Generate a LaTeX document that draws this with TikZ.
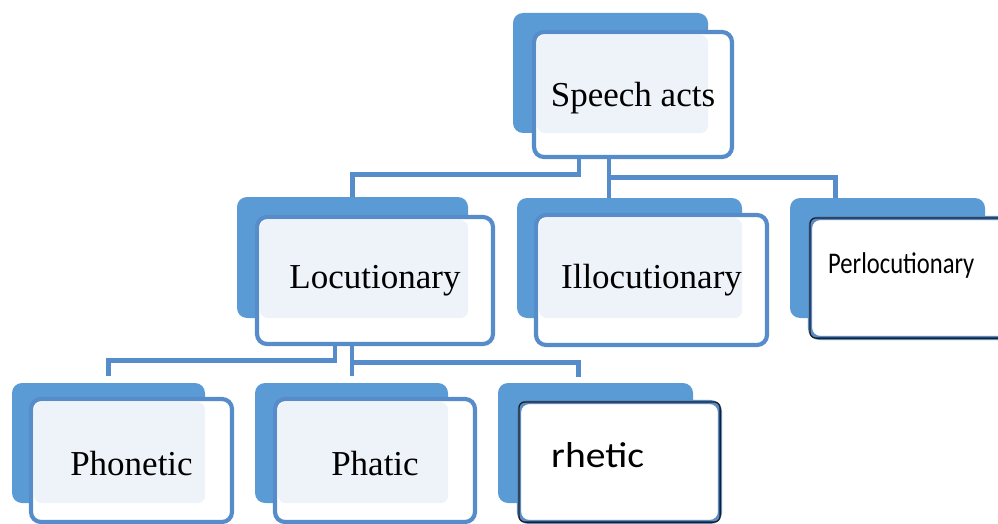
\documentclass[tikz,border=0pt]{standalone}
\usepackage{fontspec}
\setmainfont{Liberation Serif}
\newfontfamily\boxsans{Carlito}
\definecolor{backblue}{HTML}{5B9BD5}
\definecolor{lineblue}{HTML}{578CCB}
\definecolor{tintblue}{HTML}{EEF3FA}
\definecolor{rimdark}{HTML}{1E1E1E}

\begin{document}
\begin{tikzpicture}[x=1pt, y=-1pt,
	back/.style={rectangle, rounded corners=10pt, fill=backblue, inner sep=0pt},
	front/.style={rectangle, rounded corners=10pt, draw=lineblue, line width=4.2pt,
		fill=white, inner sep=0pt, text height=24pt, text depth=0pt, font=\fontsize{35}{42}\selectfont},
	tinted/.style={path picture={\fill[tintblue, rounded corners=8pt]
		([shift={(3,3)}]path picture bounding box.north west) rectangle (#1.south east);}},
	rim/.style={draw=rimdark, line width=1.3pt, rounded corners=6pt},
	link/.style={draw=lineblue, line width=4.8pt}]
		\useasboundingbox (0,0) rectangle (998,524);
		
		\node[back, minimum width=195, minimum height=120] (speech-b) at (610.5,73) {};
		\node[front, tinted=speech-b, minimum width=198, minimum height=125] (speech) at (633,94.5) {Speech acts}; % top
		
		\node[back, minimum width=231, minimum height=121] (locut-b) at (352.5,257.5) {};
		\node[front, tinted=locut-b, text depth=8pt, minimum width=236, minimum height=127] (locut) at (375,280.5) {Locutionary};
		\node[back, minimum width=225, minimum height=120] (illoc-b) at (629.5,258) {};
		\node[front, tinted=illoc-b, text depth=8pt, minimum width=231, minimum height=130] (illoc) at (651.5,280) {Illocutionary};
		\node[back, minimum width=195, minimum height=120] (perloc-b) at (887.5,258) {};
		\node[front, minimum width=200, minimum height=120] (perloc) at (910,278) {};
		\draw[rim] ([shift={(2,2)}]perloc.north west) rectangle ([shift={(-2,-2)}]perloc.south east);
		\node[anchor=west, inner sep=0pt, font=\boxsans\fontsize{30}{36}\selectfont] (perloc-t) at (828,265)
		{\scalebox{0.82}[1]{Perlocutionary}};
		
		\node[back, minimum width=193, minimum height=120] (phon-b) at (108.5,443) {};
		\node[front, tinted=phon-b, text height=29pt, minimum width=201, minimum height=123] (phon) at (131.5,460.5) {Phonetic};
		\node[back, minimum width=193, minimum height=120] (phat-b) at (351.5,443) {};
		\node[front, tinted=phat-b, text height=29pt, minimum width=200, minimum height=123] (phat) at (375,460.5) {Phatic};
		\node[back, minimum width=195, minimum height=120] (rhet-b) at (595.5,443) {};
		\node[front, minimum width=201, minimum height=120] (rhet) at (619.5,462) {};
		\draw[rim] ([shift={(2,2)}]rhet.north west) rectangle ([shift={(-2,-2)}]rhet.south east);
		\node[anchor=west, inner sep=0pt, font=\boxsans\fontsize{36}{42}\selectfont] (rhet-t) at (551,455)
		{\scalebox{1.1}[1]{rhetic}};
		
		\draw[link] ([shift={(-54,0)}]speech.south) -- ++(0,15) -| (locut-b.north); % left
		\draw[link] ([shift={(-24,0)}]speech.south) coordinate (s-r) -- (s-r |- illoc-b.north);
		\draw[link] ([shift={(-24,18)}]speech.south) -| ([shift={(-52,0)}]perloc-b.north); % right
		
		\coordinate (phat-top) at ([shift={(0,-7)}]phat-b.north);
		\draw[link] ([shift={(-40,0)}]locut.south) -- ++(0,14) -| ([shift={(0,-7)}]phon-b.north);
		\draw[link] ([shift={(-23,0)}]locut.south) coordinate (l-r) -- (l-r |- phat-top);
		\draw[link] ([shift={(-23,16)}]locut.south) -| ([shift={(-17,-6)}]rhet-b.north);
		
	\end{tikzpicture}
\end{document}
